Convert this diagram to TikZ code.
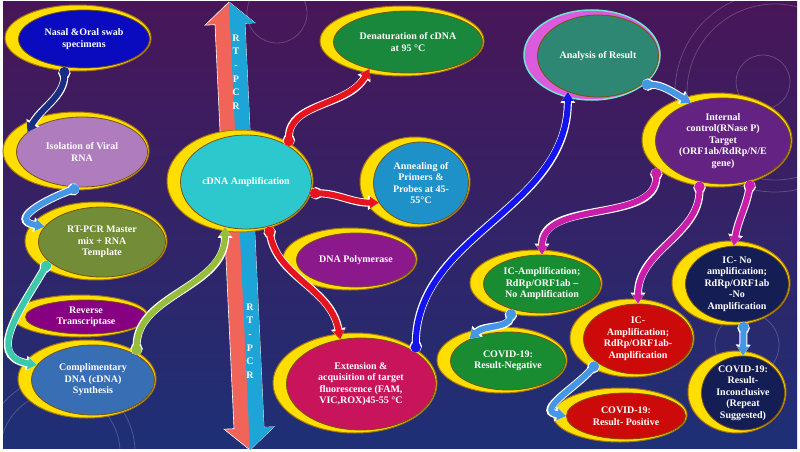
\documentclass[tikz,border=0pt]{standalone}
\usepackage{fontspec}
\setmainfont{Liberation Serif}
\usetikzlibrary{shapes.geometric,arrows.meta}

\definecolor{bgtop}{RGB}{72,22,88}
\definecolor{bgmid}{RGB}{50,32,100}
\definecolor{bgbot}{RGB}{30,48,118}
\definecolor{rimyellow}{RGB}{255,222,0}
\definecolor{rimgold}{RGB}{170,120,10}
\definecolor{rtred}{RGB}{240,100,90}
\definecolor{rtblue}{RGB}{30,165,215}
\definecolor{swabblue}{RGB}{10,10,190}
\definecolor{lavender}{RGB}{175,125,190}
\definecolor{olive}{RGB}{115,140,55}
\definecolor{rtpurple}{RGB}{135,0,130}
\definecolor{synthblue}{RGB}{55,110,180}
\definecolor{amplcyan}{RGB}{45,200,205}
\definecolor{dgreen}{RGB}{25,135,60}
\definecolor{annblue}{RGB}{30,145,200}
\definecolor{polpurple}{RGB}{140,25,140}
\definecolor{extred}{RGB}{200,20,90}
\definecolor{resteal}{RGB}{45,135,115}
\definecolor{resrim}{RGB}{220,90,220}
\definecolor{rescyan}{RGB}{110,230,210}
\definecolor{icpurple}{RGB}{100,35,130}
\definecolor{resgreen}{RGB}{25,140,50}
\definecolor{resred}{RGB}{205,10,10}
\definecolor{resnavy}{RGB}{20,30,85}
\definecolor{navyrib}{RGB}{25,45,130}
\definecolor{skyrib}{RGB}{70,150,230}
\definecolor{tealrib}{RGB}{60,200,170}
\definecolor{limerib}{RGB}{150,190,60}
\definecolor{redrib}{RGB}{230,20,30}
\definecolor{bluerib}{RGB}{20,20,235}
\definecolor{magrib}{RGB}{200,30,170}

\tikzset{
  rimnode/.style={ellipse, fill=rimyellow, draw=rimgold, line width=1pt, inner sep=0pt},
  bubnode/.style={ellipse, draw=rimgold!70!black, line width=0.8pt, inner sep=-3pt,
    align=center, text=white, font=\fontsize{10}{11.5}\selectfont\bfseries},
  ribbon/.style={line width=6pt, draw=#1, preaction={draw=white, line width=8pt},
    {Circle[length=4pt 1]}-{Triangle[length=3pt 1,width=3pt 1.4]}},
  rtletters/.style={align=center, text=white, inner sep=0pt,
    font=\fontsize{10}{13.6}\selectfont\bfseries},
  faint/.style={draw=white, opacity=0.2, line width=0.8pt}
}

% rim options, name, x, y, x radius, y radius, fill, text
\newcommand{\bubble}[8][]{%
  \node[rimnode, minimum width=2*#5pt, minimum height=2*#6pt, #1] (#2rim) at (#3,-#4) {};
  \node[bubnode, fill=#7, minimum width=2*#5pt-15pt, minimum height=2*#6pt-8pt] (#2) at (#3+6,-#4-1) {#8};
}

\begin{document}
\begin{tikzpicture}[x=1pt, y=1pt]
\useasboundingbox (0,0) rectangle (800,-452);
\fill[white] (0,0) rectangle (800,-452);
\shade[top color=bgtop, middle color=bgmid, bottom color=bgbot] (3,-2) rectangle (797,-448);

% faint circles in the background
\draw[faint] (775,-92) circle (100);
\draw[faint] (775,-92) circle (88);
\draw[faint] (763,-82) circle (27);
\draw[faint] (747,-345) circle (32);
\draw[faint] (277,-13) circle (30);
\draw[faint] (60,-452) circle (60);
\draw[faint] (60,-452) circle (75);

% RT-PCR double arrow
\fill[rtred, draw=white, line width=0.6pt] (229,-2) -- (255,-22.8) -- (245,-23.3) -- (264,-427.3)
  -- (274,-426.8) -- (250,-450) -- (224,-429.2) -- (234,-428.7) -- (215,-24.7) -- (205,-25.2) -- cycle;
\fill[rtblue] (229,-2) -- (255,-22.8) -- (245,-23.3) -- (264,-427.3) -- (274,-426.8) -- (250,-450) -- cycle;
\node[rtletters] (rtup) at (236,-72) {R\\T\\-\\P\\C\\R};
\node[rtletters] (rtdown) at (250,-341) {R\\T\\-\\P\\C\\R};

% steps
\bubble{swab}{78}{38}{73}{33}{swabblue}{Nasal \&Oral swab\\specimens}
\bubble{isol}{76}{151}{73}{39}{lavender}{Isolation of Viral\\RNA}
\bubble{mmix}{96}{241}{71}{39}{olive}{RT-PCR Master\\mix + RNA\\Template}
\bubble{rtase}{80}{316}{68}{21}{rtpurple}{Reverse\\Transcriptase}
\bubble{synth}{87}{379}{69}{39}{synthblue}{Complimentary\\DNA (cDNA)\\Synthesis}
\bubble{ampl}{240}{181}{73}{51}{amplcyan}{cDNA Amplification}
\bubble{denat}{402}{41}{82}{35}{dgreen}{Denaturation of cDNA\\at 95 °C}
\bubble{anneal}{415}{182}{55}{45}{annblue}{Annealing of\\Primers \&\\Probes at 45-\\55°C}
\bubble{polym}{350}{259}{67}{31}{polpurple}{DNA Polymerase}
\bubble{exten}{355}{383}{82}{50}{extred}{Extension \&\\acquisition of target\\fluorescence (FAM,\\VIC,ROX)45-55 °C}
\bubble[fill=resrim, draw=rescyan, line width=1.5pt]{result}{592}{55}{68}{45}{resteal}{Analysis of Result}
\bubble{intctrl}{717}{140}{75}{47}{icpurple}{Internal\\control(RNase P)\\Target\\(ORF1ab/RdRp/N/E\\gene)}
\bubble{icneg}{536}{283}{66}{33}{resgreen}{IC-Amplification;\\RdRp/ORF1ab --\\No Amplification}
\bubble{neg}{502}{360}{65}{33}{resgreen}{COVID-19:\\Result-Negative}
\bubble{icpos}{632}{338}{62}{39}{resred}{IC-\\Amplification;\\RdRp/ORF1ab-\\Amplification}
\bubble{pos}{620}{415}{67}{27}{resred}{COVID-19:\\Result- Positive}
\bubble{icinc}{731}{283}{59}{42}{resnavy}{IC- No\\amplification;\\RdRp/ORF1ab\\-No\\Amplification}
\bubble{inc}{737}{392}{49}{41}{resnavy}{COVID-19:\\Result-\\Inconclusive\\(Repeat\\Suggested)}

% ribbons
\draw[ribbon=navyrib] (swab.235) to[out=-90,in=60] (isol.160);
\draw[ribbon=skyrib] (isol.-95) to[out=-160,in=170,looseness=1.8] (mmix.165);
\draw[ribbon=tealrib] (mmix.200) to[out=-120,in=170,looseness=1.3] (synth.165);
\draw[ribbon=limerib] (synth.30) to[out=90,in=-90] (ampl.245);
\draw[ribbon=redrib] (ampl.40) to[out=90,in=-120] (denat.215);
\draw[ribbon=redrib] (ampl.-10) to[out=0,in=180] (anneal.205);
\draw[ribbon=redrib] (ampl.-63) to[out=-80,in=100] (exten.115);
\draw[ribbon=bluerib] (exten.30) to[out=90,in=-90] (result.230);
\draw[ribbon=skyrib] (result.-33) to[out=0,in=150] (intctrl.130);
\draw[ribbon=magrib] (intctrlrim.205) to[out=-90,in=90] (icneg.90);
\draw[ribbon=magrib] (intctrl.-120) to[out=-90,in=90] (icpos.90);
\draw[ribbon=magrib] (intctrl.-55) to[out=-100,in=80] (icinc.95);
\draw[ribbon=skyrib] (icneg.-140) to[out=-100,in=45] (neg.150);
\draw[ribbon=skyrib] (icpos.-150) to[out=-130,in=170,looseness=1.3] (pos.180);
\draw[ribbon=skyrib] (icinc.-80) -- (inc.90);
\end{tikzpicture}
\end{document}
